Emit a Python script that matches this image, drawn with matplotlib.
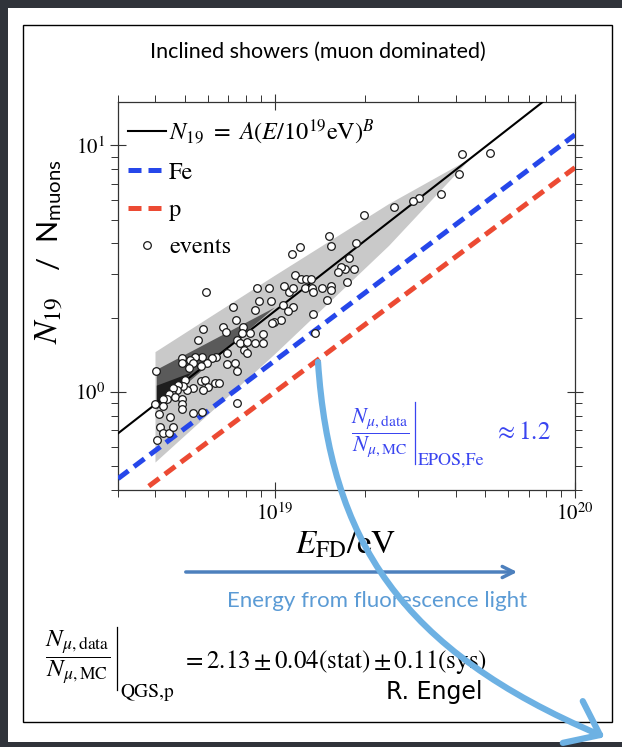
import numpy as np
import matplotlib
matplotlib.use("Agg")
import matplotlib.pyplot as plt
from matplotlib.patches import Rectangle, PathPatch
from matplotlib.path import Path
from matplotlib.lines import Line2D
from matplotlib.ticker import NullFormatter

plt.rcParams['mathtext.fontset'] = 'stix'
plt.rcParams['font.family'] = ['STIXGeneral', 'DejaVu Sans']

# events: energy in EeV (1e18 eV), N19
events_E = [52.1, 42.0, 41.0, 35.8, 30.2, 28.8, 24.9, 19.8, 15.2, 15.4,
            18.6, 12.1, 11.4, 17.6, 18.3, 17.1, 16.6, 16.2, 17.4, 11.7,
            12.2, 12.7, 13.2, 12.6, 13.3, 13.4, 14.4, 15.4, 15.4, 14.9,
            10.7, 11.1, 11.5, 9.55, 8.7, 8.85, 9.7, 10.6, 11.5, 11.05,
            8.6, 13.4, 10.5, 9.9, 9.75, 9.1, 8.6, 9.1, 13.6, 5.89,
            7.25, 7.4, 5.76, 6.7, 7.8, 6.86, 5.55, 7.76, 8.25, 7.5,
            7.65, 8.1, 7.9, 8.1, 6.9, 7.36, 7.5, 6.9, 6.38, 6.16,
            5.93, 5.7, 5.41, 5.21, 5.33, 4.9, 4.9, 5.17, 5.66, 4.01,
            5.01, 5.66, 5.84, 6.31, 6.5, 5.98, 5.76, 5.33, 5.09, 4.94,
            4.75, 4.71, 4.57, 4.57, 4.43, 4.37, 4.64, 4.24, 4.9, 4.9,
            4.9, 4.24, 3.98, 4.11, 4.47, 5.33, 5.7, 7.5, 4.14, 4.24,
            4.43, 4.57, 4.04]
events_N = [9.29, 9.2, 7.64, 6.35, 6.11, 5.94, 5.62, 5.22, 4.30, 3.91,
            4.03, 3.88, 3.63, 3.50, 3.16, 3.16, 3.20, 3.07, 2.78, 2.99,
            2.86, 2.86, 2.86, 2.63, 2.63, 2.55, 2.63, 2.70, 2.58, 2.37,
            2.70, 2.55, 2.65, 2.63, 2.63, 2.33, 2.33, 2.26, 2.22, 2.12,
            2.14, 2.08, 1.95, 1.93, 1.91, 1.71, 1.58, 1.58, 1.73, 2.55,
            2.20, 1.95, 1.80, 1.83, 1.83, 1.75, 1.62, 1.73, 1.73, 1.62,
            1.58, 1.59, 1.48, 1.44, 1.44, 1.31, 1.22, 1.30, 1.38, 1.37,
            1.31, 1.38, 1.38, 1.35, 1.31, 1.37, 1.31, 1.25, 1.27, 1.22,
            1.12, 1.11, 1.12, 1.09, 1.09, 1.05, 1.02, 1.04, 1.02, 1.06,
            1.07, 1.02, 1.04, 0.97, 0.98, 0.94, 0.95, 0.94, 0.94, 0.89,
            0.85, 0.88, 0.89, 0.81, 0.79, 0.82, 0.83, 0.90, 0.72, 0.68,
            0.68, 0.72, 0.64]

# power laws N = A (E/10 EeV)^B
fit_A, fit_B = 2.13, 0.95
fe_A, fe_B = 1.34, 0.916
p_A, p_B = 1.0, 0.91
line_E = [3.0, 100.0]
p_E = [3.8, 100.0]

# spread bands
band_E = [4.0, 10.0, 24.0, 45.0]
band_hi = [1.45, 2.96, 5.78, 8.86]
band_lo = [0.517, 1.42, 3.91, 8.86]
core_E = [4.04, 10.0]
core_hi = [1.23, 2.2]
core_lo = [0.846, 2.2]
inner_E = [4.04, 5.3]
inner_hi = [1.06, 1.2]
inner_lo = [0.87, 1.2]

W, H = 622, 747


def fx(x):
    return x / W


def fy(y):
    return 1 - y / H


fig = plt.figure(figsize=(6.22, 7.47), dpi=100)
fig.patch.set_facecolor('#30333a')
fig.add_artist(Rectangle((fx(8), fy(742)), fx(614), 734 / H, transform=fig.transFigure,
                         facecolor='white', edgecolor='none', zorder=0))
fig.add_artist(Rectangle((fx(23), fy(722)), fx(589), 697 / H, transform=fig.transFigure,
                         facecolor='none', edgecolor='black', lw=1.0, zorder=1))

ax = fig.add_axes([fx(118), fy(490), fx(457), 388 / H])
ax.set_xscale('log')
ax.set_yscale('log')

E = np.array(line_E)
ax.fill(band_E + band_E[::-1], band_hi + band_lo[::-1], color='#c9c9c9', lw=0, zorder=1)
ax.fill(core_E + core_E[::-1], core_hi + core_lo[::-1], color='#5a5a5a', lw=0, zorder=2)
ax.fill(inner_E + inner_E[::-1], inner_hi + inner_lo[::-1], color='#1e1e1e', lw=0, zorder=2)

ax.plot(E, fit_A * (E / 10) ** fit_B, color='black', lw=1.5, zorder=3,
        label=r'$N_{19}\ =\ A(E/10^{19}\mathrm{eV})^B$')
ax.plot(E, fe_A * (E / 10) ** fe_B, color='#2647ea', lw=3.6, dashes=(2.6, 1.4),
        zorder=3, label='Fe')
Ep = np.array(p_E)
ax.plot(Ep, p_A * (Ep / 10) ** p_B, color='#ec4a33', lw=3.6, dashes=(2.6, 1.4),
        zorder=3, label='p')
ax.plot(events_E, events_N, 'o', ms=5.5, mfc='white', mec='#1a1a1a', mew=0.9,
        zorder=4, label='events')

ax.set_xlim(3.0, 100.0)
ax.set_ylim(0.4, 15.0)
ax.set_xticks([10, 100])
ax.set_xticklabels([r'$10^{19}$', r'$10^{20}$'])
ax.set_yticks([1, 10])
ax.set_yticklabels([r'$10^{0}$', r'$10^{1}$'])
ax.xaxis.set_minor_formatter(NullFormatter())
ax.yaxis.set_minor_formatter(NullFormatter())
ax.tick_params(which='major', direction='inout', length=11, width=0.8,
               top=True, right=True, labelsize=15, color='#333333', pad=4)
ax.tick_params(which='minor', direction='out', length=5, width=0.7,
               top=True, right=True, color='#333333')
for s in ax.spines.values():
    s.set_linewidth(0.9)
    s.set_color('#333333')

leg = ax.legend(loc='upper left', bbox_to_anchor=(-0.012, 1.0), frameon=False,
                fontsize=17.5, handlelength=1.55, handletextpad=0.12,
                labelspacing=0.62, borderaxespad=0.25)

# axis labels
fig.text(fx(50), fy(320), r'$N_{19}$', rotation=90, ha='center', va='center', fontsize=24)
fig.text(fx(50), fy(215), r'/  N$_{\mathregular{muons}}$', rotation=90,
         ha='center', va='center', fontsize=21, family='Lato')
fig.text(fx(346), fy(545), r'$E_{\mathrm{FD}}$/eV', ha='center', va='center', fontsize=24)

# title
fig.text(fx(318), fy(52), 'Inclined showers (muon dominated)', ha='center', va='center',
         fontsize=15.5, family='Lato')

# blue ratio inside plot
blue = '#3a45f0'
fig.text(fx(380), fy(433), r'$\dfrac{N_{\mu,\mathrm{data}}}{N_{\mu,\mathrm{MC}}}$',
         ha='center', va='center', fontsize=16, color=blue)
fig.add_artist(Line2D([fx(415), fx(415)], [fy(402), fy(464)], color=blue, lw=0.9))
fig.text(fx(418), fy(461), 'EPOS,Fe', ha='left', va='center', fontsize=13, color=blue)
fig.text(fx(494), fy(433), r'$\approx 1.2$', ha='left', va='center', fontsize=18, color=blue)

# horizontal arrow and caption
ax.annotate('', xy=(fx(520), fy(572)), xytext=(fx(183), fy(572)),
            xycoords='figure fraction', textcoords='figure fraction',
            arrowprops=dict(arrowstyle='->,head_length=0.8,head_width=0.4',
                            color='#4d80bd', lw=2.5))
fig.text(fx(377), fy(601), 'Energy from fluorescence light', ha='center', va='center',
         fontsize=16, family='Lato', color='#5b9bd5')

# bottom ratio
fig.text(fx(78), fy(658), r'$\dfrac{N_{\mu,\mathrm{data}}}{N_{\mu,\mathrm{MC}}}$',
         ha='center', va='center', fontsize=18)
fig.add_artist(Line2D([fx(117), fx(117)], [fy(627), fy(690)], color='black', lw=0.9))
fig.text(fx(120), fy(692), 'QGS,p', ha='left', va='center', fontsize=14)
fig.text(fx(182), fy(662), r'$= 2.13 \pm 0.04(\mathrm{stat}) \pm 0.11(\mathrm{sys})$',
         ha='left', va='center', fontsize=18)
fig.text(fx(386), fy(692), 'R. Engel', ha='left', va='center', fontsize=17,
         family='DejaVu Sans')

# hand-drawn light blue arrow
stroke = '#6db1e3'
P = np.array([[318, 362], [330, 540], [400, 650], [600, 735]], dtype=float)
verts = [(fx(x), fy(y)) for x, y in P]
path = Path(verts, [Path.MOVETO, Path.CURVE4, Path.CURVE4, Path.CURVE4])
fig.add_artist(PathPatch(path, transform=fig.transFigure, facecolor='none',
                         edgecolor=stroke, lw=4.5, capstyle='round', zorder=10))
d = P[3] - P[2]
d = d / np.hypot(*d)
for ang in (np.radians(40), np.radians(-35)):
    rot = np.array([[np.cos(ang), -np.sin(ang)], [np.sin(ang), np.cos(ang)]])
    w = P[3] - 38 * (rot @ d)
    fig.add_artist(Line2D([fx(P[3][0]), fx(w[0])], [fy(P[3][1]), fy(w[1])],
                          color=stroke, lw=4.5, solid_capstyle='round', zorder=10))

fig.savefig('out.png', dpi=100, facecolor=fig.get_facecolor())
